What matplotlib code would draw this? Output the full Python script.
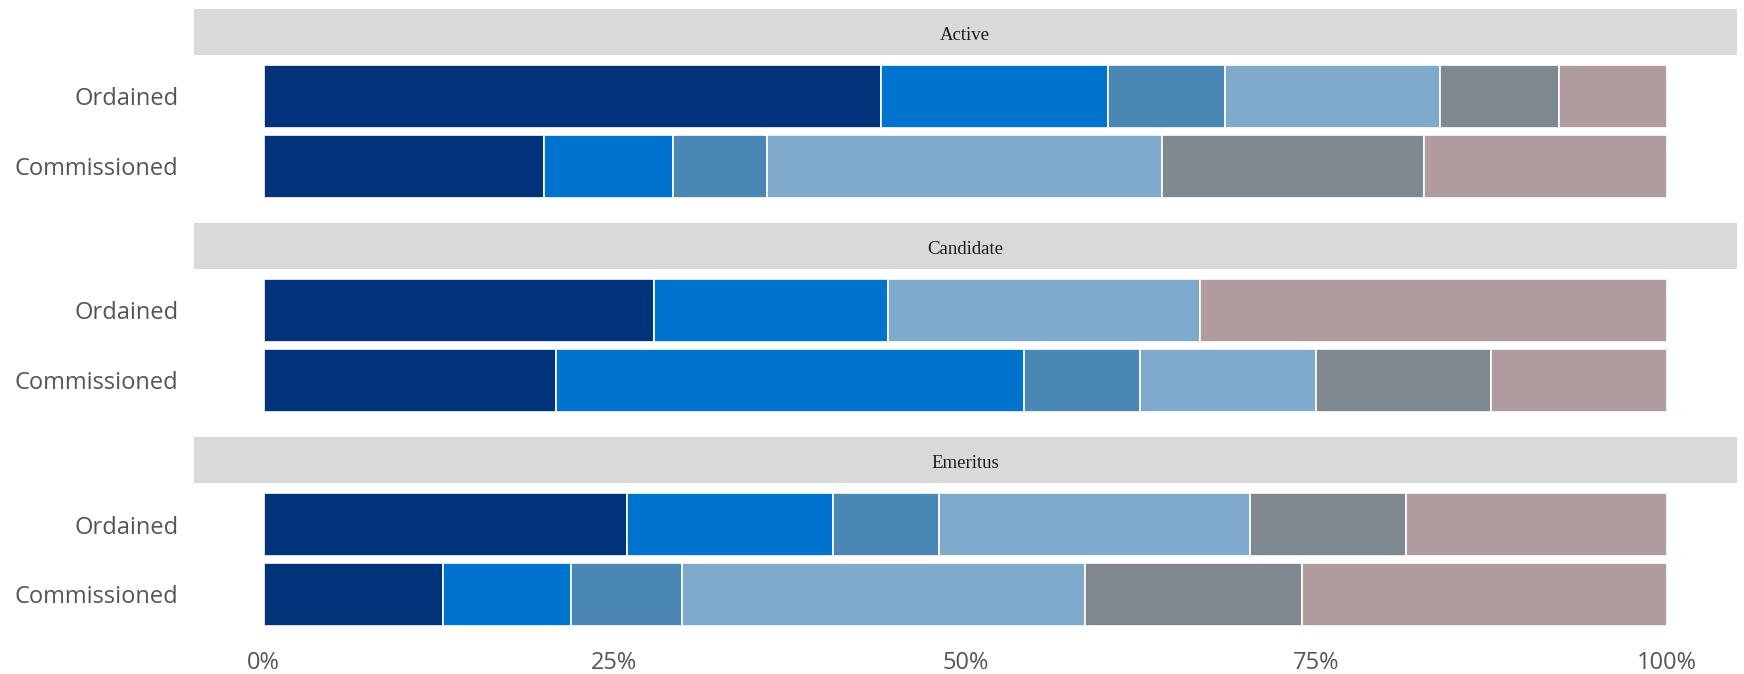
import matplotlib
matplotlib.use('Agg')
import matplotlib.pyplot as plt

# shares in percent, one list per bar, six segments left to right
statuses = ["Active", "Candidate", "Emeritus"]
roles = ["Ordained", "Commissioned"]

active_ordained = [44.0, 16.2, 8.3, 15.3, 8.5, 7.7]
active_commissioned = [20.0, 9.2, 6.7, 28.1, 18.7, 17.3]
candidate_ordained = [27.8, 16.7, 0.0, 22.2, 0.0, 33.3]
candidate_commissioned = [20.8, 33.3, 8.3, 12.5, 12.5, 12.5]
emeritus_ordained = [25.9, 14.7, 7.5, 22.2, 11.1, 18.6]
emeritus_commissioned = [12.8, 9.1, 7.9, 28.7, 15.5, 26.0]

xticks = [0, 25, 50, 75, 100]
xticklabels = ["0%", "25%", "50%", "75%", "100%"]

colores = ["#00337a", "#0073cf", "#4a87b5", "#7faacb", "#80888f", "#b09c9f"]

paineis = {
    "Active": {"Ordained": active_ordained, "Commissioned": active_commissioned},
    "Candidate": {"Ordained": candidate_ordained, "Commissioned": candidate_commissioned},
    "Emeritus": {"Ordained": emeritus_ordained, "Commissioned": emeritus_commissioned},
}

W, H = 1744, 674
fig = plt.figure(figsize=(W / 100, H / 100), dpi=100)

x0, x1 = 193.5, 1737
topo = 8.9
strip_h = 45.6
painel_h = 153.5
gap = 15

fonte_label = dict(family=["Open Sans", "DejaVu Sans"], size=17, color="#555555")

for i, st in enumerate(statuses):
    s_top = topo + i * (strip_h + painel_h + gap)
    p_top = s_top + strip_h
    # strip
    ax_s = fig.add_axes([x0 / W, 1 - (s_top + strip_h) / H, (x1 - x0) / W, strip_h / H])
    ax_s.set_facecolor("#d9d9d9")
    ax_s.set_xticks([])
    ax_s.set_yticks([])
    for sp in ax_s.spines.values():
        sp.set_visible(False)
    ax_s.text(0.5, 0.42, st, ha="center", va="center", transform=ax_s.transAxes,
              family=["Liberation Serif", "DejaVu Serif"], size=13.5, color="#1a1a1a")

    # painel
    ax = fig.add_axes([x0 / W, 1 - (p_top + painel_h) / H, (x1 - x0) / W, painel_h / H])
    for j, r in enumerate(roles):
        ypos = len(roles) - j
        vals = paineis[st][r]
        total = sum(vals)
        esq = 0.0
        for k, v in enumerate(vals):
            v = v * 100.0 / total
            if v > 0:
                ax.barh(ypos, v, left=esq, height=0.9, color=colores[k],
                        edgecolor="white", linewidth=1.2)
            esq += v
    ax.set_xlim(-5, 105)
    ax.set_ylim(0.4, 2.6)
    ax.set_yticks([2, 1])
    ax.set_yticklabels(roles, **fonte_label)
    ax.tick_params(axis="y", length=0, pad=11)
    for sp in ax.spines.values():
        sp.set_visible(False)
    if i == len(statuses) - 1:
        ax.set_xticks(xticks)
        ax.set_xticklabels(xticklabels, **fonte_label)
        ax.tick_params(axis="x", length=0, pad=11)
    else:
        ax.set_xticks([])

fig.savefig("out.png", dpi=100)
